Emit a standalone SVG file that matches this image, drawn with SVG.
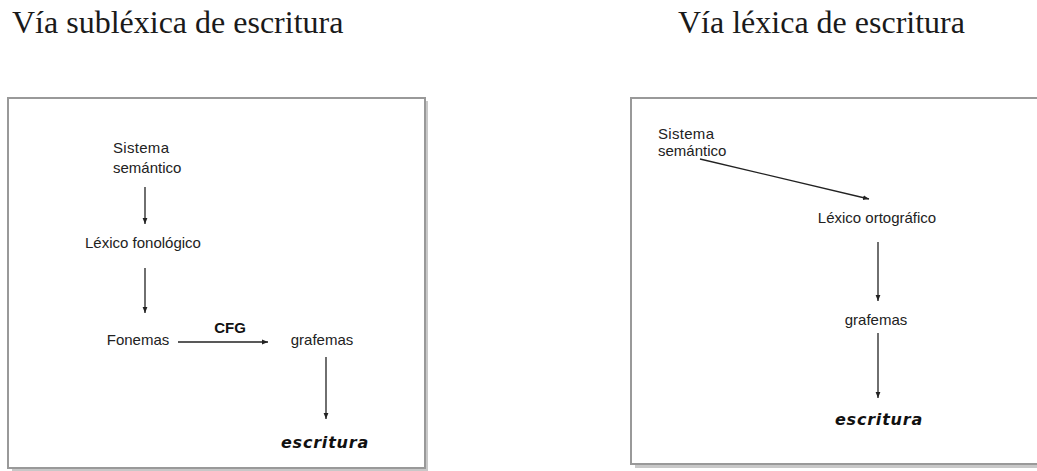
<svg xmlns="http://www.w3.org/2000/svg" width="1037" height="471" viewBox="0 0 1037 471">
<style>
.title{font-family:"Liberation Serif","Times New Roman",serif;font-size:32px;fill:#1a1a1a}
.lbl{font-family:"Liberation Sans",Arial,sans-serif;font-size:15px;fill:#222;text-anchor:middle}
.lbl-l{font-family:"Liberation Sans",Arial,sans-serif;font-size:15px;fill:#222}
.bold{font-family:"Liberation Sans",Arial,sans-serif;font-size:15px;font-weight:bold;fill:#111;text-anchor:middle}
.esc{font-family:"DejaVu Sans",Verdana,sans-serif;font-size:16px;font-weight:bold;font-style:italic;fill:#111;text-anchor:middle;letter-spacing:0.8px}
.frame{fill:#fff;stroke:#999;stroke-width:2}
.shadow{fill:#c8c8c8}
.edge{stroke:#222;stroke-width:1.3;fill:none;marker-end:url(#ah)}
</style>
<defs>
<marker id="ah" viewBox="0 0 10 10" refX="10" refY="5" markerWidth="6" markerHeight="6" markerUnits="userSpaceOnUse" orient="auto">
<path d="M0,1 L10,5 L0,9 z" fill="#222"/>
</marker>
</defs>
<rect width="1037" height="471" fill="#fff"/>
<text class="title" x="12" y="33">Vía subléxica de escritura</text>
<text class="title" x="678" y="33">Vía léxica de escritura</text>

<g id="frame-left">
<rect class="shadow" x="12" y="101" width="416" height="371"/>
<rect class="frame" x="8" y="98" width="417" height="370"/>
</g>
<g id="frame-right">
<rect class="shadow" x="635" y="101" width="410" height="367"/>
<rect class="frame" x="631" y="98" width="412" height="366"/>
</g>

<g id="l-sistema"><text class="lbl-l" x="113" y="153" letter-spacing="0.3">Sistema</text><text class="lbl-l" x="113" y="173">semántico</text></g>
<g id="l-lexfon"><text class="lbl" x="143" y="248">Léxico fonológico</text></g>
<g id="l-fonemas"><text class="lbl" x="138" y="345">Fonemas</text></g>
<g id="l-grafemas"><text class="lbl" x="322" y="345">grafemas</text></g>
<g id="l-escritura"><text class="esc" x="325" y="448">escritura</text></g>

<g id="r-sistema"><text class="lbl-l" x="658" y="139" letter-spacing="0.3">Sistema</text><text class="lbl-l" x="658" y="156">semántico</text></g>
<g id="r-lexort"><text class="lbl" x="877" y="223">Léxico ortográfico</text></g>
<g id="r-grafemas"><text class="lbl" x="876" y="325">grafemas</text></g>
<g id="r-escritura"><text class="esc" x="879" y="425">escritura</text></g>

<g id="connectors">
<line class="edge" x1="145" y1="187" x2="145" y2="224"/>
<line class="edge" x1="145" y1="268" x2="145" y2="313"/>
<line class="edge" x1="178" y1="342" x2="268" y2="342"/>
<text class="bold" x="230" y="333">CFG</text>
<line class="edge" x1="326" y1="357" x2="326" y2="419"/>
<line class="edge" x1="700" y1="159" x2="869" y2="199"/>
<line class="edge" x1="878" y1="242" x2="878" y2="301"/>
<line class="edge" x1="878" y1="333" x2="878" y2="398"/>
</g>
</svg>
